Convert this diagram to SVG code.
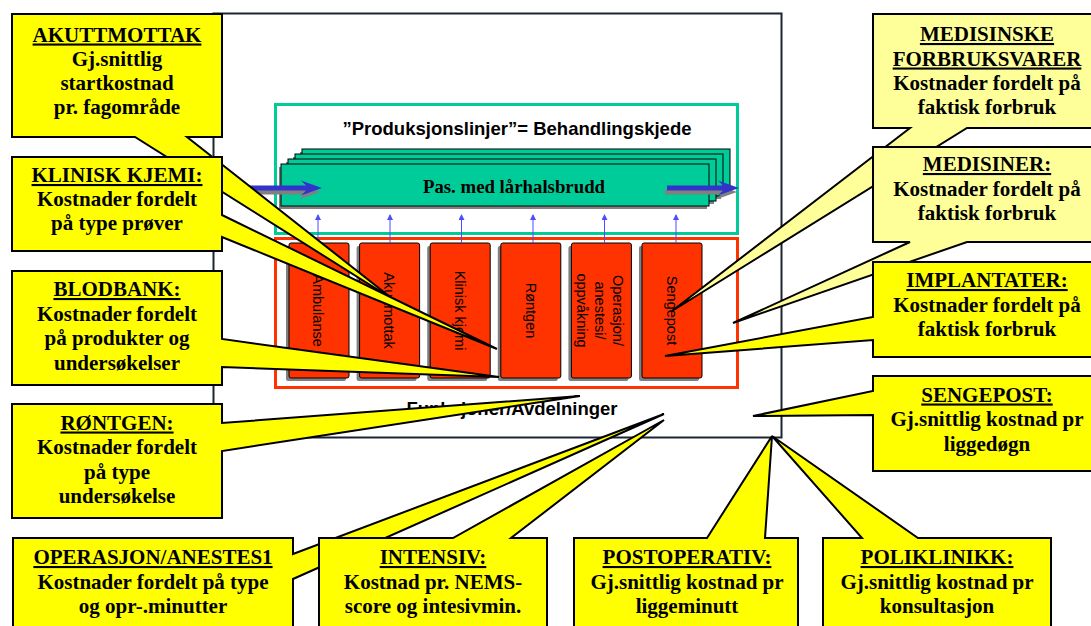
<svg xmlns="http://www.w3.org/2000/svg" width="1091" height="626" viewBox="0 0 1091 626">
<defs>
<style>
.callout{fill:#FFFF00;stroke:#000;stroke-width:2;stroke-linejoin:miter}
.pale{fill:#FFFF99}
.ct{font-family:"Liberation Serif","Times New Roman",serif;font-weight:bold;font-size:21px;fill:#000;text-anchor:middle}
.ul{text-decoration:underline}
.dept{fill:#FF3300;stroke:#000;stroke-width:1}
.shadow{fill:#808080}
.dt{font-family:"Liberation Sans",Arial,sans-serif;font-size:14.5px;fill:#000;text-anchor:middle}
.lane{fill:#00CC99;stroke:#000;stroke-width:1}
.hd{font-family:"Liberation Sans",Arial,sans-serif;font-weight:bold;font-size:18.5px;fill:#000;text-anchor:middle}
.lt{font-family:"Liberation Serif","Times New Roman",serif;font-weight:bold;font-size:18.8px;fill:#000;text-anchor:middle}
.feed{stroke:#4D4DFF;stroke-width:1;fill:none;marker-end:url(#tip)}
.flow{fill:#3333CC}
</style>
<marker id="tip" viewBox="0 0 6 6" refX="5" refY="3" markerWidth="6" markerHeight="6" orient="auto" markerUnits="userSpaceOnUse">
<path d="M0,0 L6,3 L0,6 Z" fill="#4D4DFF"/>
</marker>
</defs>

<rect width="1091" height="626" fill="#fff"/>

<!-- outer frame -->
<g id="frame">
<rect x="213.5" y="13.5" width="568" height="424" fill="#fff" stroke="#1b2631" stroke-width="2"/>
</g>

<!-- production line panel -->
<g id="produksjonslinjer">
<rect x="275.5" y="104.5" width="462" height="129" fill="#fff" stroke="#00CC99" stroke-width="3"/>
<text class="hd" x="517" y="135">”Produksjonslinjer”= Behandlingskjede</text>
</g>

<g id="pasientforlop">
<rect class="shadow" x="300" y="152" width="428" height="42"/>
<rect class="lane" x="302" y="149" width="428" height="42"/>
<rect class="shadow" x="293" y="157" width="428" height="42"/>
<rect class="lane" x="295" y="154" width="428" height="42"/>
<rect class="shadow" x="286" y="162" width="428" height="42"/>
<rect class="lane" x="288" y="159" width="428" height="42"/>
<rect class="shadow" x="279" y="167" width="428" height="42"/>
<rect class="lane" x="281" y="164" width="428" height="42"/>
<text class="lt" x="514" y="192.5">Pas. med lårhalsbrudd</text>
</g>

<g id="flow-arrows">
<polygon class="shadow" points="238,189.5 304,189.5 299,184.5 320,192 299,199.5 304,194.5 238,194.5"/>
<polygon class="flow" points="240,185.5 306,185.5 301,180.5 322,188 301,195.5 306,190.5 240,190.5"/>
<polygon class="shadow" points="665,189.5 721,189.5 716,184.5 737,192 716,199.5 721,194.5 665,194.5"/>
<polygon class="flow" points="667,185.5 723,185.5 718,180.5 739,188 718,195.5 723,190.5 667,190.5"/>
</g>

<!-- departments -->
<g id="funksjoner">
<rect x="275.5" y="238.5" width="462" height="149" fill="#fff" stroke="#FF3300" stroke-width="3"/>
<text class="hd" x="512" y="415">Funksjoner/Avdelninger</text>
</g>

<g id="ambulanse">
<rect class="shadow" x="286" y="246" width="60" height="135" rx="2"/>
<rect class="dept" x="289" y="243" width="60" height="135" rx="2"/>
<text class="dt" transform="translate(318,310.5) rotate(90)" x="0" y="5">Ambulanse</text>
</g>
<g id="akuttmottak">
<rect class="shadow" x="356.6" y="246" width="60" height="135" rx="2"/>
<rect class="dept" x="359.6" y="243" width="60" height="135" rx="2"/>
<text class="dt" transform="translate(389,310.5) rotate(90)" x="0" y="5">Akuttmottak</text>
</g>
<g id="klinisk-kjemi">
<rect class="shadow" x="427.2" y="246" width="60" height="135" rx="2"/>
<rect class="dept" x="430.2" y="243" width="60" height="135" rx="2"/>
<text class="dt" transform="translate(459.5,310.5) rotate(90)" x="0" y="5">Klinisk kjemi</text>
</g>
<g id="rontgen">
<rect class="shadow" x="497.8" y="246" width="60" height="135" rx="2"/>
<rect class="dept" x="500.8" y="243" width="60" height="135" rx="2"/>
<text class="dt" transform="translate(530.5,310.5) rotate(90)" x="0" y="5">Røntgen</text>
</g>
<g id="operasjon">
<rect class="shadow" x="568.4" y="246" width="60" height="135" rx="2"/>
<rect class="dept" x="571.4" y="243" width="60" height="135" rx="2"/>
<text class="dt" transform="translate(600,310.5) rotate(90)"><tspan x="0" y="-13">Operasjon/</tspan><tspan x="0" y="5">anestesi/</tspan><tspan x="0" y="23">oppvåkning</tspan></text>
</g>
<g id="sengepost">
<rect class="shadow" x="639" y="246" width="60" height="135" rx="2"/>
<rect class="dept" x="642" y="243" width="60" height="135" rx="2"/>
<text class="dt" transform="translate(671.5,310.5) rotate(90)" x="0" y="5">Sengepost</text>
</g>

<!-- departments feed the treatment chain -->
<g id="connectors">
<line class="feed" x1="318" y1="243" x2="318" y2="215"/>
<line class="feed" x1="390" y1="243" x2="390" y2="215"/>
<line class="feed" x1="461.5" y1="243" x2="461.5" y2="215"/>
<line class="feed" x1="533" y1="243" x2="533" y2="215"/>
<line class="feed" x1="604.5" y1="243" x2="604.5" y2="215"/>
<line class="feed" x1="676" y1="243" x2="676" y2="215"/>
</g>

<!-- cost callouts, left column -->
<g id="c-akuttmottak">
<path class="callout" d="M12,14 H222 V137 H187 L394,300 L135,137 H12 Z"/>
<text class="ct"><tspan class="ul" x="117" y="41.5">AKUTTMOTTAK</tspan><tspan x="117" y="65.5">Gj.snittlig</tspan><tspan x="117" y="89.5">startkostnad</tspan><tspan x="117" y="113.5">pr. fagområde</tspan></text>
</g>
<g id="c-klinisk-kjemi">
<path class="callout" d="M12,157 H222 V215 L497,349 L222,237 V251 H12 Z"/>
<text class="ct"><tspan class="ul" x="117" y="182">KLINISK KJEMI:</tspan><tspan x="117" y="206">Kostnader fordelt</tspan><tspan x="117" y="230">på type prøver</tspan></text>
</g>
<g id="c-blodbank">
<path class="callout" d="M12,271 H222 V339 L499,377 L222,367 V385 H12 Z"/>
<text class="ct"><tspan class="ul" x="117" y="296">BLODBANK:</tspan><tspan x="117" y="320.5">Kostnader fordelt</tspan><tspan x="117" y="345">på produkter og</tspan><tspan x="117" y="369.5">undersøkelser</tspan></text>
</g>
<g id="c-rontgen">
<path class="callout" d="M12,404 H222 V423 L580,396 L222,451 V518 H12 Z"/>
<text class="ct"><tspan class="ul" x="117" y="429.5">RØNTGEN:</tspan><tspan x="117" y="454">Kostnader fordelt</tspan><tspan x="117" y="478.5">på type</tspan><tspan x="117" y="503">undersøkelse</tspan></text>
</g>

<!-- cost callouts, bottom row -->
<g id="c-operasjon">
<path class="callout" d="M13,538 H293 V554 L664,414 L293,579 V640 H13 Z"/>
<text class="ct"><tspan class="ul" x="153" y="564">OPERASJON/ANESTES1</tspan><tspan x="153" y="588.5">Kostnader fordelt på type</tspan><tspan x="153" y="613">og opr-.minutter</tspan></text>
</g>
<g id="c-intensiv">
<path class="callout" d="M319,538 H453 L664,420 L511,538 H547 V640 H319 Z"/>
<text class="ct"><tspan class="ul" x="433" y="564">INTENSIV:</tspan><tspan x="433" y="588.5">Kostnad pr. NEMS-</tspan><tspan x="433" y="613">score og intesivmin.</tspan></text>
</g>
<g id="c-postoperativ">
<path class="callout" d="M574,538 H707 L772,436 L765,538 H798 V640 H574 Z"/>
<text class="ct"><tspan class="ul" x="687" y="564">POSTOPERATIV:</tspan><tspan x="687" y="588.5">Gj.snittlig kostnad pr</tspan><tspan x="687" y="613">liggeminutt</tspan></text>
</g>
<g id="c-poliklinikk">
<path class="callout" d="M823,538 H862 L772,436 L918,538 H1051 V640 H823 Z"/>
<text class="ct"><tspan class="ul" x="937" y="564">POLIKLINIKK:</tspan><tspan x="937" y="588.5">Gj.snittlig kostnad pr</tspan><tspan x="937" y="613">konsultasjon</tspan></text>
</g>

<!-- cost callouts, right column -->
<g id="c-medisinske-forbruksvarer">
<path class="callout pale" d="M873,14 H1101 V128 H967 L672,311 L910,128 H873 Z"/>
<text class="ct"><tspan class="ul" x="987" y="41">MEDISINSKE</tspan><tspan class="ul" x="987" y="65.5">FORBRUKSVARER</tspan><tspan x="987" y="90">Kostnader fordelt på</tspan><tspan x="987" y="114">faktisk forbruk</tspan></text>
</g>
<g id="c-medisiner">
<path class="callout pale" d="M873,147 H1101 V242 H967 L733,323 L910,242 H873 Z"/>
<text class="ct"><tspan class="ul" x="987" y="171">MEDISINER:</tspan><tspan x="987" y="195.5">Kostnader fordelt på</tspan><tspan x="987" y="220">faktisk forbruk</tspan></text>
</g>
<g id="c-implantater">
<path class="callout" d="M873,262 H1101 V357 H873 V340 L665,356 L873,317 Z"/>
<text class="ct"><tspan class="ul" x="987" y="287">IMPLANTATER:</tspan><tspan x="987" y="311.5">Kostnader fordelt på</tspan><tspan x="987" y="336">faktisk forbruk</tspan></text>
</g>
<g id="c-sengepost">
<path class="callout" d="M873,376 H1101 V471 H873 V415 L753,416 L873,391 Z"/>
<text class="ct"><tspan class="ul" x="987" y="401.5">SENGEPOST:</tspan><tspan x="987" y="426">Gj.snittlig kostnad pr</tspan><tspan x="987" y="450.5">liggedøgn</tspan></text>
</g>
</svg>
